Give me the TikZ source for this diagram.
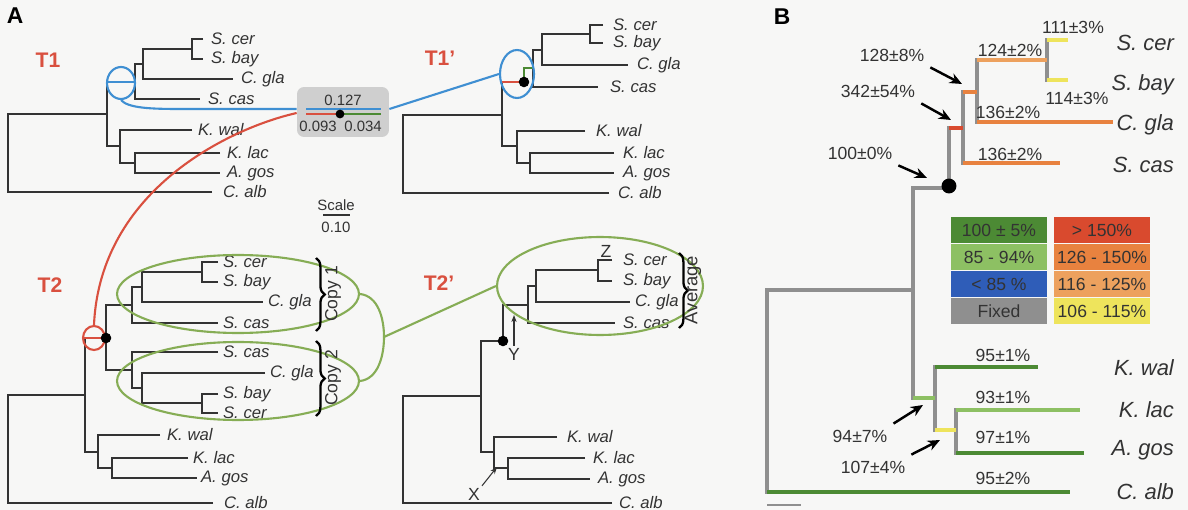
\documentclass[tikz,border=0pt]{standalone}
\usepackage{fontspec}
\setmainfont{Liberation Sans}
\usetikzlibrary{arrows.meta, positioning, calc, shapes.geometric, decorations.pathreplacing}
\definecolor{inkdark}{HTML}{333333}
\definecolor{treered}{HTML}{D9503F}
\definecolor{ringblue}{HTML}{3F8FD2}
\definecolor{ringgreen}{HTML}{86AD55}
\definecolor{boxgray}{HTML}{CFCFCF}
\definecolor{paper}{HTML}{F7F7F6}
\definecolor{fixedgray}{HTML}{8F8F8F}
\definecolor{darkgreen}{HTML}{4C8A34}
\definecolor{lightgreen}{HTML}{8DC063}
\definecolor{lowblue}{HTML}{2F5DB8}
\definecolor{highred}{HTML}{D94A2E}
\definecolor{orangeup}{HTML}{E8823F}
\definecolor{orangemid}{HTML}{EDA15E}
\definecolor{slightyellow}{HTML}{EEE45C}

\begin{document}
\begin{tikzpicture}[
    x=0.02cm, y=-0.02cm,
    >={Stealth[length=5pt, width=4pt]},
    % ── shared styles ──
    panel id/.style={font=\fontsize{13}{15}\selectfont\bfseries, text=black},
    tree id/.style={font=\fontsize{12}{14}\selectfont\bfseries, text=treered},
    taxon/.style={font=\fontsize{9.5}{11}\selectfont\itshape, text=inkdark,
        anchor=west, inner sep=1pt},
    big taxon/.style={font=\fontsize{12.5}{14}\selectfont\itshape, text=inkdark,
        anchor=east, inner sep=1pt},
    tree/.style={draw=inkdark, line width=1pt},
    ring/.style={draw=#1, ellipse, line width=1.2pt, inner sep=0pt},
    link/.style={draw=#1, line width=1.2pt},
    node dot/.style={circle, fill=black, inner sep=0pt, minimum size=6pt},
    brace mark/.style={decorate, decoration={brace, amplitude=5pt},
        line width=1.3pt, draw=black},
    copy label/.style={font=\fontsize{10}{12}\selectfont, rotate=90, text=inkdark},
    small num/.style={font=\fontsize{8.5}{10}\selectfont, text=inkdark, inner sep=1pt},
    pointer label/.style={font=\fontsize{10}{12}\selectfont, text=inkdark, inner sep=1pt},
    pointer/.style={->, >={Stealth[length=4pt, width=3pt]}, draw=inkdark, line width=0.6pt},
    pct/.style={font=\fontsize{10}{12}\selectfont, text=inkdark},
    callout/.style={->, >={Stealth[length=7pt, width=6pt]}, draw=black, line width=1.4pt},
    bbar/.style={draw=#1, line width=2.4pt},
    bjoin/.style={draw=fixedgray, line width=2.4pt, line cap=rect},
    key/.style={fill=#1, minimum width=1.94cm, minimum height=0.52cm, inner sep=0pt,
        font=\fontsize{10}{12}\selectfont, text=inkdark},
]

\useasboundingbox[fill=paper] (0,0) rectangle (1188,510);

% ══════════════════════════════════════════════════════════════════════
%  PANEL A — TITLES
% ══════════════════════════════════════════════════════════════════════
\node[panel id] (labA) at (15,16) {A};
\node[tree id] (idT1) at (48,60) {T1};
\node[tree id] (idT1p) at (440,58) {T1\char"0027};
\node[tree id] (idT2) at (50,285) {T2};
\node[tree id] (idT2p) at (439,283) {T2\char"0027};

% ══════════════════════════════════════════════════════════════════════
%  T1
% ══════════════════════════════════════════════════════════════════════
\draw[tree] (212,192) -| (8,114) -- (107,114);
\draw[tree] (107,82) -- (107,146) -- (120,146);
\draw[tree] (143,64) -| (135,99) -- (200,99);
\draw[tree] (192,49) -| (143,79) -- (233,79);
\draw[tree] (203,39) -| (192,59) -- (203,59);
\draw[tree] (192,130) -| (120,163) -- (135,163);
\draw[tree] (220,153) -| (135,173) -- (220,173);
\draw[link=ringblue] (107,82) -- (135,82);
\node[ring=ringblue, minimum width=0.56cm, minimum height=0.64cm] (ringA) at (121,83) {};

\node[taxon] (a1cer) at (209,39) {S. cer};
\node[taxon] (a1bay) at (209,59) {S. bay};
\node[taxon] (a1gla) at (239,79) {C. gla};
\node[taxon] (a1cas) at (206,99) {S. cas};
\node[taxon] (a1wal) at (196,130) {K. wal};
\node[taxon] (a1lac) at (225,153) {K. lac};
\node[taxon] (a1gos) at (225,173) {A. gos};
\node[taxon] (a1alb) at (221,192) {C. alb};

% ══════════════════════════════════════════════════════════════════════
%  T1'  (S. cas branch split at the new node)
% ══════════════════════════════════════════════════════════════════════
\draw[tree] (609,193) -| (403,115) -- (502,115);
\draw[tree] (502,82) -- (502,146) -- (517,146);
\draw[tree] (542,50) -| (533,87) -- (598,87);
\draw[tree] (590,34) -| (542,65) -- (628,65);
\draw[tree] (603,25) -| (590,43) -- (603,43);
\draw[tree] (585,131) -| (517,163) -- (530,163);
\draw[tree] (614,153) -| (530,173) -- (614,173);
\draw[link=treered] (502,82) -- (524,82);
\draw[link=darkgreen] (524,82) |- (533,68);
\node[node dot] (splitB) at (524,82) {};
\node[ring=ringblue, minimum width=0.68cm, minimum height=0.96cm] (ringB) at (517,74) {};

\node[taxon] (b1cer) at (611,25) {S. cer};
\node[taxon] (b1bay) at (611,43) {S. bay};
\node[taxon] (b1gla) at (635,65) {C. gla};
\node[taxon] (b1cas) at (608,87) {S. cas};
\node[taxon] (b1wal) at (594,131) {K. wal};
\node[taxon] (b1lac) at (621,153) {K. lac};
\node[taxon] (b1gos) at (621,173) {A. gos};
\node[taxon] (b1alb) at (616,193) {C. alb};

% ══════════════════════════════════════════════════════════════════════
%  BRANCH LENGTH BOX + SCALE
% ══════════════════════════════════════════════════════════════════════
\node[fill=boxgray, rounded corners=4pt, minimum width=1.84cm, minimum height=1.0cm]
    (lenbox) at (343,112) {};
\node[small num] (lenall) at (343,100) {0.127};
\node[small num] (lenred) at (318,126) {0.093};
\node[small num] (lengreen) at (363,126) {0.034};
\draw[link=ringblue] (306,109) -- (381,109);
\draw[link=treered] (306,114) -- (339,114);
\draw[link=darkgreen] (343,114) -- (381,114);
\node[node dot, minimum size=5pt] (lendot) at (340,114) {};

\node[small num] (sclabel) at (336,205) {Scale};
\draw[draw=inkdark, line width=1.2pt] (323,215) -- (350,215);
\node[small num] (scvalue) at (336,227) {0.10};

% ══════════════════════════════════════════════════════════════════════
%  T2  (duplicated clade, two copies)
% ══════════════════════════════════════════════════════════════════════
\draw[tree] (213,503) -| (8,395) -- (85,395);
\draw[tree] (85,338) -- (85,452) -- (98,452);
\draw[tree] (132,305) -| (106,370) -- (132,370);
\draw[tree] (142,287) -| (132,323) -- (218,323);
\draw[tree] (202,272) -| (142,302) -- (263,302);
\draw[tree] (218,262) -| (202,282) -- (218,282);
\draw[tree] (218,352) -| (132,388) -- (142,388);
\draw[tree] (265,373) -| (142,403) -- (202,403);
\draw[tree] (218,394) -| (202,413) -- (218,413);
\draw[tree] (160,435) -| (98,468) -- (112,468);
\draw[tree] (188,458) -| (112,478) -- (197,478);
\draw[link=treered] (83,338) -- (106,338);
\node[ring=treered, minimum width=0.44cm, minimum height=0.48cm] (ringC) at (94,338) {};
\node[node dot] (dupdot) at (106,338) {};

\node[taxon] (c1cer) at (221,262) {S. cer};
\node[taxon] (c1bay) at (221,282) {S. bay};
\node[taxon] (c1gla) at (266,302) {C. gla};
\node[taxon] (c1cas) at (221,323) {S. cas};
\node[taxon] (c2cas) at (221,352) {S. cas};
\node[taxon] (c2gla) at (268,373) {C. gla};
\node[taxon] (c2bay) at (221,394) {S. bay};
\node[taxon] (c2cer) at (221,413) {S. cer};
\node[taxon] (c1wal) at (165,435) {K. wal};
\node[taxon] (c1lac) at (191,458) {K. lac};
\node[taxon] (c1gos) at (199,478) {A. gos};
\node[taxon] (c1alb) at (222,503) {C. alb};

\node[ring=ringgreen, minimum width=4.84cm, minimum height=1.56cm] (copyA) at (238,294) {};
\node[ring=ringgreen, minimum width=4.84cm, minimum height=1.56cm] (copyB) at (238,381) {};
\draw[brace mark] (316,258) -- (316,331);
\draw[brace mark] (316,341) -- (316,416);
\node[copy label] (copyAtxt) at (333,294) {Copy 1};
\node[copy label] (copyBtxt) at (333,378) {Copy 2};

% ══════════════════════════════════════════════════════════════════════
%  T2'  (averaged copies)
% ══════════════════════════════════════════════════════════════════════
\draw[tree] (612,503) -| (403,396) -- (481,396);
\draw[tree] (503,341) -| (481,452) -- (494,452);
\draw[tree] (503,341) |- (528,305);
\draw[tree] (536,286) -| (528,323) -- (615,323);
\draw[tree] (598,270) -| (536,302) -- (630,302);
\draw[tree] (612,260) -| (598,281) -- (612,281);
\draw[tree] (557,437) -| (494,468) -- (508,468);
\draw[tree] (585,458) -| (508,479) -- (590,479);
\node[node dot] (rootdot) at (503,341) {};

\node[taxon] (d1cer) at (621,260) {S. cer};
\node[taxon] (d1bay) at (621,281) {S. bay};
\node[taxon] (d1gla) at (633,302) {C. gla};
\node[taxon] (d1cas) at (621,323) {S. cas};
\node[taxon] (d1wal) at (565,437) {K. wal};
\node[taxon] (d1lac) at (591,458) {K. lac};
\node[taxon] (d1gos) at (596,479) {A. gos};
\node[taxon] (d1alb) at (617,503) {C. alb};

\node[ring=ringgreen, minimum width=4.12cm, minimum height=1.96cm] (avgring) at (600,286) {};
\draw[brace mark] (679,253) -- (679,328);
\node[copy label, font=\fontsize{10.5}{12}\selectfont] (avgtxt) at (693,290) {Average};

\node[pointer label] (lblZ) at (606,251) {Z};
\node[pointer label] (lblY) at (514,354) {Y};
\coordinate (tipY) at (514,315);
\draw[pointer] (lblY.north) -- (tipY);
\node[pointer label] (lblX) at (474,494) {X};
\coordinate (tipX) at (497,467);
\draw[pointer] (lblX.north east) -- (tipX);

% ══════════════════════════════════════════════════════════════════════
%  CONNECTORS between trees
% ══════════════════════════════════════════════════════════════════════
\draw[link=ringblue] (ringA.south) .. controls (128,108) and (150,109) .. (180,109)
    -- ($(lenbox.west)+(0,-3)$);
\draw[link=ringblue] ($(lenbox.east)+(0,-3)$) -- (ringB.west);
\draw[link=treered] ($(lenbox.west)+(0,1)$) .. controls (230,128) and (100,190) .. (ringC.north);
\coordinate (merge) at (384,337);
\draw[link=ringgreen] (copyA.east) .. controls (378,296) and (384,318) .. (merge);
\draw[link=ringgreen] (copyB.east) .. controls (378,379) and (384,356) .. (merge);
\draw[link=ringgreen] (merge) -- (avgring.west);

% ══════════════════════════════════════════════════════════════════════
%  PANEL B — RELATIVE RATES
% ══════════════════════════════════════════════════════════════════════
\node[panel id] (labB) at (782,17) {B};

% gray joins first, coloured branches on top
\draw[bjoin] (767,290) -- (767,492);
\draw[bjoin] (767,290) -- (913,290);
\draw[bjoin] (913,188) -- (913,398);
\draw[bjoin] (913,188) -- (949,188);
\draw[bjoin] (949,128) -- (949,188);
\draw[bjoin] (963,92) -- (963,163);
\draw[bjoin] (977,60) -- (977,122);
\draw[bjoin] (1047,40) -- (1047,80);
\draw[bjoin] (935,367) -- (935,430);
\draw[bjoin] (956,410) -- (956,453);

\draw[bbar=highred] (949,128) -- (963,128);
\draw[bbar=orangeup] (963,92) -- (977,92);
\draw[bbar=orangemid] (977,60) -- (1047,60);
\draw[bbar=slightyellow] (1047,40) -- (1068,40);
\draw[bbar=slightyellow] (1047,80) -- (1068,80);
\draw[bbar=orangeup] (977,122) -- (1113,122);
\draw[bbar=orangeup] (963,163) -- (1060,163);
\draw[bbar=lightgreen] (913,398) -- (935,398);
\draw[bbar=darkgreen] (935,367) -- (1038,367);
\draw[bbar=slightyellow] (935,430) -- (956,430);
\draw[bbar=lightgreen] (956,410) -- (1080,410);
\draw[bbar=darkgreen] (956,453) -- (1084,453);
\draw[bbar=darkgreen] (767,492) -- (1070,492);
\node[node dot, minimum size=8.5pt] (fixdot) at (949,186) {};
\draw[draw=fixedgray, line width=1.6pt] (767,505) -- (801,505);

\node[big taxon] (ecer) at (1176,43) {S. cer};
\node[big taxon] (ebay) at (1176,85) {S. bay};
\node[big taxon] (egla) at (1176,125) {C. gla};
\node[big taxon] (ecas) at (1176,165) {S. cas};
\node[big taxon] (ewal) at (1176,368) {K. wal};
\node[big taxon] (elac) at (1176,410) {K. lac};
\node[big taxon] (egos) at (1176,450) {A. gos};
\node[big taxon] (ealb) at (1176,492) {C. alb};

\node[pct] (p111) at (1073,27) {111±3\%};
\node[pct] (p124) at (1010,50) {124±2\%};
\node[pct] (p114) at (1077,98) {114±3\%};
\node[pct] (p136g) at (1008,112) {136±2\%};
\node[pct] (p136c) at (1010,154) {136±2\%};
\node[pct] (p95w) at (1003,355) {95±1\%};
\node[pct] (p93) at (1003,397) {93±1\%};
\node[pct] (p97) at (1003,437) {97±1\%};
\node[pct] (p95a) at (1003,478) {95±2\%};

\node[pct] (p128) at (892,55) {128±8\%};
\node[pct] (p342) at (878,91) {342±54\%};
\node[pct] (p100) at (860,153) {100±0\%};
\node[pct] (p94) at (860,436) {94±7\%};
\node[pct] (p107) at (873,467) {107±4\%};
\coordinate (t128) at (962,84);
\coordinate (t342) at (951,120);
\coordinate (t100) at (927,178);
\coordinate (t94) at (923,405);
\coordinate (t107) at (940,440);
\draw[callout] (p128.south east) -- (t128);
\draw[callout] (p342.south east) -- (t342);
\draw[callout] (p100.south east) -- (t100);
\draw[callout] (p94.north east) -- (t94);
\draw[callout] (p107.north east) -- (t107);

% ══════════════════════════════════════════════════════════════════════
%  LEGEND
% ══════════════════════════════════════════════════════════════════════
\node[key=darkgreen] (keyexact) at (999,230) {100 ± 5\%};
\node[key=lightgreen] (keylow) at (999,257) {85 - 94\%};
\node[key=lowblue] (keyblue) at (999,284) {< 85 \%};
\node[key=fixedgray] (keyfixed) at (999,311) {Fixed};
\node[key=highred] (keyhigh) at (1102,230) {> 150\%};
\node[key=orangeup] (keyup) at (1102,257) {126 - 150\%};
\node[key=orangemid] (keymid) at (1102,284) {116 - 125\%};
\node[key=slightyellow] (keyslight) at (1102,311) {106 - 115\%};

\end{tikzpicture}
\end{document}
